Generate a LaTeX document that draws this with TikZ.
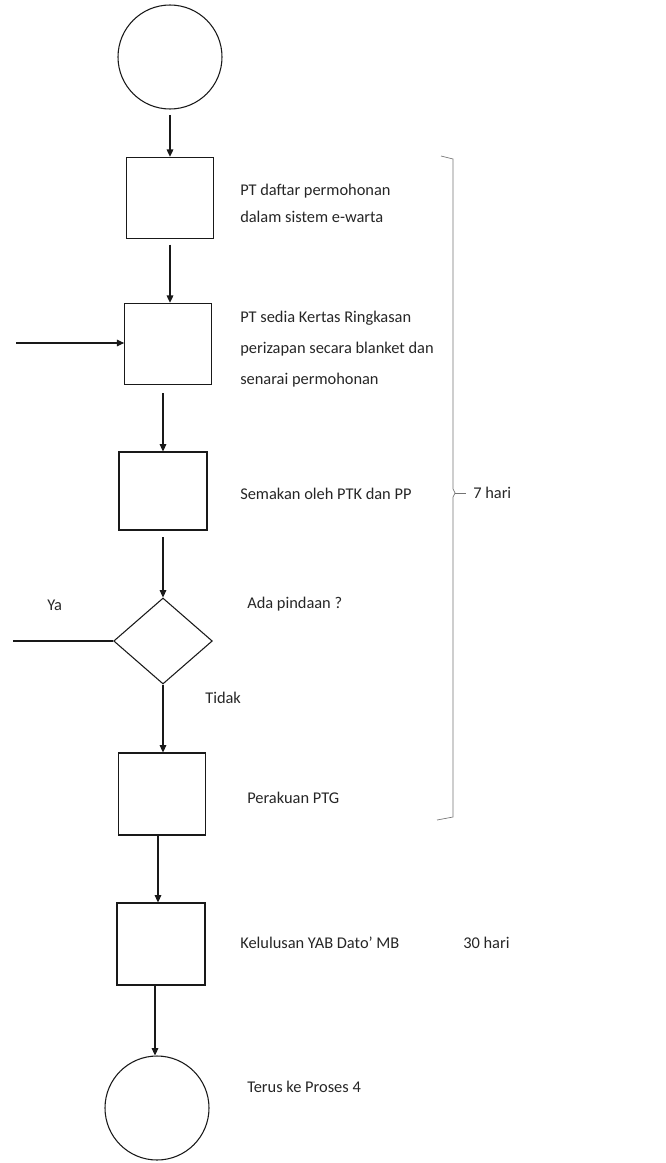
\documentclass[tikz,border=0pt]{standalone}
\usepackage{fontspec}
\setmainfont{Carlito}
\usetikzlibrary{shapes.geometric,arrows.meta}
\begin{document}
\begin{tikzpicture}[x=0.75pt,y=-0.75pt,
  shapeline/.style={draw=black!90,line width=0.8pt},
  stepbox/.style={shapeline,rectangle,inner sep=0pt},
  termcircle/.style={shapeline,circle,inner sep=0pt,minimum size=78pt},
  decision/.style={shapeline,diamond,inner sep=0pt,minimum width=74pt,minimum height=64.5pt},
  arr/.style={line width=0.8pt,draw=black!90,-{Triangle[length=5.5pt,width=5pt]}},
  lbl/.style={anchor=west,inner sep=0pt,text=black!85,font=\fontsize{12.3}{14}\selectfont,align=left},
  bracel/.style={draw=black!55,line width=0.5pt}
]
\useasboundingbox (0,0) rectangle (666,1163);
% shapes
\node[termcircle] (start) at (170,57) {};
\node[stepbox,minimum width=65pt,minimum height=61pt] (b1) at (170,198) {};
\node[stepbox,minimum width=65pt,minimum height=61pt] (b2) at (168,344) {};
\node[stepbox,minimum width=66pt,minimum height=58.5pt] (b3) at (163,491) {};
\node[decision] (d) at (163,641) {};
\node[stepbox,minimum width=65pt,minimum height=61.5pt] (b4) at (162,794) {};
\node[stepbox,minimum width=66pt,minimum height=61.5pt] (b5) at (161,944) {};
\node[termcircle] (end) at (157,1108) {};
% labels
\node[lbl,font=\fontsize{12.3}{20}\selectfont] (t1) at (240,203.5) {PT daftar permohonan\\dalam sistem e-warta};
\node[lbl,font=\fontsize{12.3}{23.25}\selectfont] (t2) at (240,349) {PT sedia Kertas Ringkasan\\perizapan secara blanket dan\\senarai permohonan};
\node[lbl] (t3) at (240,494) {Semakan oleh PTK dan PP};
\node[lbl] (t4) at (247,604) {Ada pindaan ?};
\node[lbl] (ya) at (47,605) {Ya};
\node[lbl] (tidak) at (205,698) {Tidak};
\node[lbl] (t5) at (247,798) {Perakuan PTG};
\node[lbl] (t6) at (240,943) {Kelulusan YAB Dato' MB};
\node[lbl] (h30) at (463,943) {30 hari};
\node[lbl] (t7) at (247,1087) {Terus ke Proses 4};
\node[lbl] (h7) at (473,493) {7 hari};
% connectors
\draw[arr,shorten <=4pt] (start.south) -- (start.south |- b1.north);
\draw[arr,shorten <=4pt] (b1.south) -- (b1.south |- b2.north);
\draw[arr,shorten <=6pt] (b2.south -| b3.north) -- (b3.north);
\draw[arr,shorten <=5pt] (b3.south) -- (d.north);
\draw[arr] (d.south) -- (d.south |- b4.north);
\draw[arr] (b4.south -| 158,0) -- (158,0 |- b5.north);
\draw[arr] (b5.south -| 155,0) -- (155,0 |- end.north);
\coordinate (inL) at (16,343);
\draw[arr] (inL) -- (b2.west |- inL);
\coordinate (yaL) at (13,641);
\draw[line width=0.8pt,draw=black!90] (d.west) -- (yaL);
% brace
\coordinate (brT) at (441,156);
\coordinate (brB) at (437,820);
\coordinate (brTick) at (466,493);
\draw[bracel] (brT) -- (453,159) -- (453,489) -- (455,493) -- (453,497) -- (453,817) -- (brB);
\draw[bracel] (455,493) -- (brTick);
\end{tikzpicture}
\end{document}
